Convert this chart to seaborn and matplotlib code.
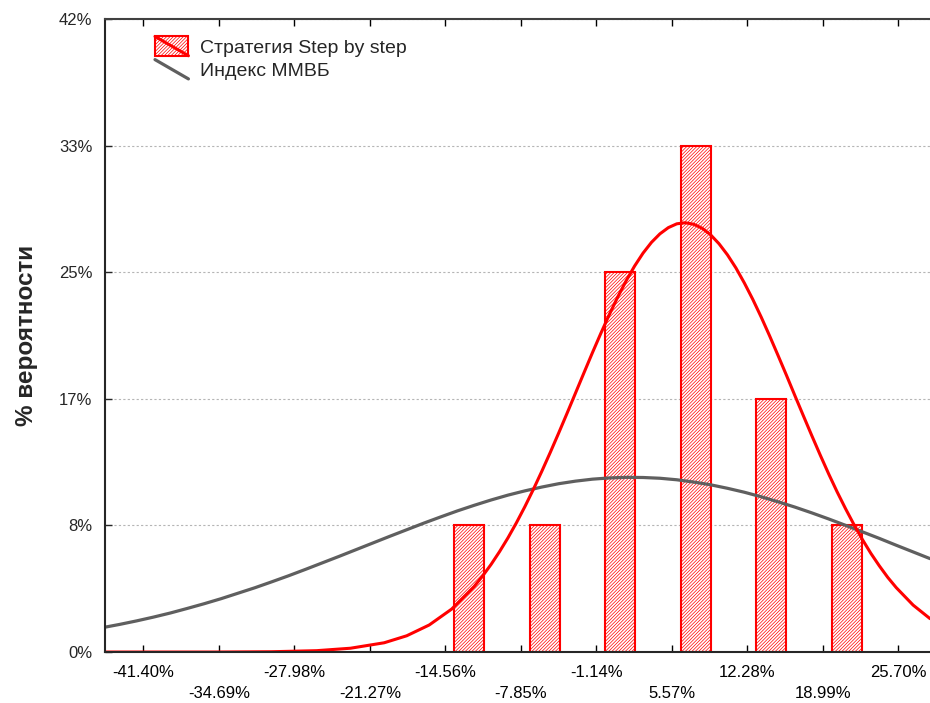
import matplotlib
matplotlib.use("Agg")
import matplotlib.pyplot as plt
import seaborn as sns
from matplotlib.patches import Patch, Rectangle
from matplotlib.lines import Line2D
from matplotlib.legend_handler import HandlerBase

# x axis: bin boundaries (returns, %)
tick_values = [-41.40, -34.69, -27.98, -21.27, -14.56, -7.85, -1.14, 5.57, 12.28, 18.99, 25.70]
tick_labels = ["-41.40%", "-34.69%", "-27.98%", "-21.27%", "-14.56%", "-7.85%",
               "-1.14%", "5.57%", "12.28%", "18.99%", "25.70%"]

# histogram of the strategy (share of observations, %)
bar_x = [-12.45, -5.74, 0.97, 7.68, 14.39, 21.10]
bar_pct = [8.33, 8.33, 25.0, 33.33, 16.67, 8.33]

# y axis
y_ticks = [0, 8.33, 16.67, 25.0, 33.33, 41.67]
y_labels = ["0%", "8%", "17%", "25%", "33%", "42%"]

# fitted curve, strategy
red_x = [-44.9, -40, -35, -30, -26, -23, -20, -18, -16, -14, -12, -11.25, -10.5, -9.75,
         -9, -8.25, -7.5, -6.75, -6, -5.25, -4.5, -3.75, -3, -2.25, -1.5, -0.75,
         0, 0.75, 1.5, 2.25, 3, 3.75, 4.5, 5.25, 6, 6.75, 7.5, 8.25, 9, 9.75,
         10.5, 11.25, 12, 12.75, 13.5, 14.25, 15, 15.75, 16.5, 17.25, 18, 18.75,
         19.5, 20.25, 21, 21.75, 22.5, 23.25, 24, 24.75, 25.5, 27, 28.5]
red_y = [0.0, 0.0, 0.0, 0.02, 0.09, 0.25, 0.61, 1.07, 1.78, 2.83, 4.32, 5.01, 5.77, 6.61,
         7.52, 8.51, 9.57, 10.70, 11.89, 13.13, 14.41, 15.72, 17.05, 18.38, 19.70, 20.98,
         22.21, 23.37, 24.44, 25.41, 26.26, 26.97, 27.53, 27.94, 28.19, 28.26, 28.16, 27.90, 27.47, 26.88,
         26.15, 25.29, 24.30, 23.22, 22.05, 20.81, 19.52, 18.21, 16.87, 15.55, 14.24, 12.96,
         11.72, 10.54, 9.43, 8.38, 7.40, 6.49, 5.67, 4.91, 4.24, 3.09, 2.20]

# fitted curve, MICEX index
gray_x = [-45, -43.5, -42, -40.5, -39, -37.5, -36, -34.5, -33, -31.5, -30, -28.5, -27, -25.5,
          -24, -22.5, -21, -19.5, -18, -16.5, -15, -13.5, -12, -10.5, -9, -7.5, -6, -4.5,
          -3, -1.5, 0, 1.5, 3, 4.5, 6, 7.5, 9, 10.5, 12, 13.5, 15, 16.5, 18, 19.5,
          21, 22.5, 24, 25.5, 27, 28.5]
gray_y = [1.61, 1.82, 2.05, 2.30, 2.57, 2.87, 3.18, 3.51, 3.87, 4.23, 4.62, 5.02, 5.44, 5.87,
          6.30, 6.74, 7.18, 7.62, 8.05, 8.48, 8.89, 9.29, 9.66, 10.01, 10.33, 10.61, 10.86, 11.08,
          11.25, 11.38, 11.46, 11.50, 11.49, 11.44, 11.34, 11.19, 11.01, 10.78, 10.52, 10.22, 9.89, 9.54, 9.16, 8.76,
          8.34, 7.91, 7.48, 7.03, 6.59, 6.15]


class HatchDiag(HandlerBase):
    def create_artists(self, legend, orig, xd, yd, w, h, fs, trans):
        r = Rectangle((-xd, -yd), w, h, facecolor="white", edgecolor="red",
                      hatch="//////////", lw=1.5, transform=trans)
        l = Line2D([-xd, -xd + w], [-yd + h, -yd], color="red", lw=2.2, transform=trans)
        return [r, l]


class DiagLine(HandlerBase):
    def create_artists(self, legend, orig, xd, yd, w, h, fs, trans):
        l = Line2D([-xd, -xd + w], [-yd + h, -yd], color=orig.get_color(),
                   lw=orig.get_linewidth(), transform=trans)
        return [l]


sns.set_style("ticks")
plt.rcParams["font.family"] = ["Liberation Sans", "DejaVu Sans"]
plt.rcParams["hatch.linewidth"] = 0.5

fig = plt.figure(figsize=(9.3, 7.03), dpi=100)
ax = fig.add_axes([0.1129, 0.0725, 0.8871, 0.9004])

sns.barplot(x=bar_x, y=bar_pct, native_scale=True, width=0.4, color="white",
            edgecolor="red", linewidth=1.5, hatch="//////////", errorbar=None, ax=ax)
sns.lineplot(x=gray_x, y=gray_y, color="#5f5f5f", lw=2.3, ax=ax)
sns.lineplot(x=red_x, y=red_y, color="red", lw=2.2, ax=ax)

ax.set_xlim(-44.81, 28.5)
ax.set_ylim(0, 41.67)
ax.set_xticks(tick_values)
ax.set_xticklabels([t if i % 2 == 0 else "\n" + t for i, t in enumerate(tick_labels)],
                   fontsize=12, linespacing=1.5)
ax.set_yticks(y_ticks)
ax.set_yticklabels(y_labels, fontsize=12)
ax.tick_params(axis="x", direction="in", top=True, length=5, width=1, pad=9.5, colors="black")
ax.tick_params(axis="y", direction="in", length=5, width=1, pad=9)
ax.yaxis.grid(True, linestyle=(0, (2, 2)), color="#b5b5b5", lw=0.8)
ax.set_axisbelow(True)

ax.spines["right"].set_visible(False)
ax.spines["top"].set_color("#404040")
for s in ["left", "bottom", "top"]:
    ax.spines[s].set_linewidth(1.5)

ax.set_xlabel("")
ax.set_ylabel("% вероятности", fontsize=17.5, fontweight="bold", labelpad=15)

handles = [Patch(facecolor="white", edgecolor="red"),
           Line2D([], [], color="#5f5f5f", lw=2.3)]
ax.legend(handles, ["Стратегия Step by step", "Индекс ММВБ"],
          handler_map={Patch: HatchDiag(), Line2D: DiagLine()},
          loc="upper left", bbox_to_anchor=(0.0606, 0.9725), frameon=False,
          fontsize=14, handlelength=1.72, handleheight=1.15, labelspacing=0.15,
          handletextpad=0.57, borderpad=0, borderaxespad=0)

fig.savefig("out.png", dpi=100)
